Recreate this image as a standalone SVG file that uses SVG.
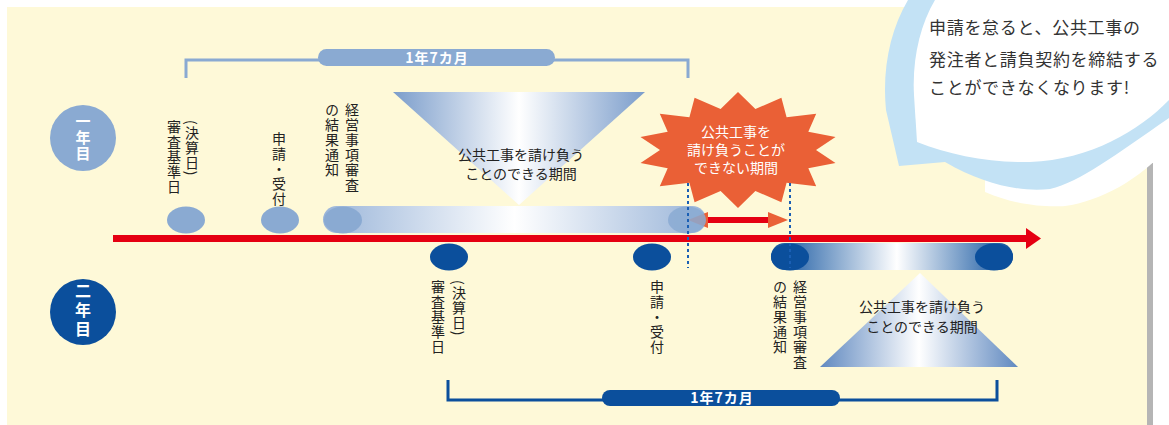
<svg xmlns="http://www.w3.org/2000/svg" width="1169" height="425" viewBox="0 0 1169 425">
<defs>
<style>
.lbl{font-family:"Noto Sans CJK JP",sans-serif;font-size:14px;fill:#222;writing-mode:vertical-rl;letter-spacing:1px}
.yr{font-family:"Noto Sans CJK JP",sans-serif;fill:#fff;writing-mode:vertical-rl;font-weight:bold}
.ctr{font-family:"Noto Sans CJK JP",sans-serif;font-size:14px;fill:#222;text-anchor:middle}
.star{font-family:"Noto Sans CJK JP",sans-serif;font-size:14px;fill:#fff;text-anchor:middle}
.pill{font-family:"Noto Sans CJK JP",sans-serif;font-size:14px;fill:#fff;text-anchor:middle;font-weight:bold;letter-spacing:1px}
.bub{font-family:"Noto Sans CJK JP",sans-serif;font-size:17px;fill:#333;letter-spacing:0.7px}
.o1{fill:#8aaad2}
.o2{fill:#0b4f9c}
.dot{stroke:#1a5fb4;stroke-width:2;stroke-dasharray:3 3;fill:none}
</style>
<linearGradient id="g1bar" x1="323" y1="0" x2="706" y2="0" gradientUnits="userSpaceOnUse">
<stop offset="0" stop-color="#9ab5d9"/><stop offset="0.5" stop-color="#ffffff"/><stop offset="1" stop-color="#9ab5d9"/>
</linearGradient>
<linearGradient id="g1fun" x1="393" y1="0" x2="645" y2="0" gradientUnits="userSpaceOnUse">
<stop offset="0" stop-color="#7b9dcb"/><stop offset="0.5" stop-color="#ffffff"/><stop offset="1" stop-color="#7b9dcb"/>
</linearGradient>
<linearGradient id="g2bar" x1="771" y1="0" x2="1013" y2="0" gradientUnits="userSpaceOnUse">
<stop offset="0" stop-color="#0b4f9c"/><stop offset="0.52" stop-color="#ffffff"/><stop offset="1" stop-color="#0b4f9c"/>
</linearGradient>
<linearGradient id="g2pyr" x1="820" y1="0" x2="1018" y2="0" gradientUnits="userSpaceOnUse">
<stop offset="0" stop-color="#6089c0"/><stop offset="0.5" stop-color="#ffffff"/><stop offset="1" stop-color="#6089c0"/>
</linearGradient>
</defs>

<rect x="0" y="0" width="1169" height="425" fill="#ffffff"/>
<rect x="7" y="7" width="1140" height="418" fill="#fef9d8"/>
<rect x="1147" y="163" width="6" height="262" fill="#b5b5b5"/>

<g id="speech-bubble">
<path d="M985,192 C1020,207 1050,207 1065,206 C1100,201 1140,180 1169,146 L1169,60 L985,60 Z" fill="#ffffff"/>
<path d="M908,0 C890,30 882,70 886,110 L899,166 L945,162 C985,185 1020,192 1050,189 C1080,182 1115,155 1169,118 L1169,0 Z" fill="#c3e2f5"/>
<path d="M935,0 C920,25 912,60 914,95 L917,142 C950,155 990,163 1030,162 C1090,160 1140,130 1169,100 L1169,0 Z" fill="#ffffff"/>
<text class="bub" x="929" y="34">申請を怠ると、公共工事の</text>
<text class="bub" x="929" y="66">発注者と請負契約を締結する</text>
<text class="bub" x="929" y="94">ことができなくなります!</text>
</g>

<g id="year1-badge">
<circle cx="83" cy="138" r="33" fill="#8aaad2"/>
<text class="yr" x="83" y="114" style="font-size:15px;letter-spacing:1px">一年目</text>
</g>
<g id="year2-badge">
<circle cx="83" cy="312" r="33" fill="#0b4f9c"/>
<text class="yr" x="83" y="283" style="font-size:16px;letter-spacing:3px">二年目</text>
</g>

<g id="year1-period">
<polygon points="393,92 645,92 519,205" fill="url(#g1fun)"/>
<rect x="323" y="206" width="383" height="27" rx="13.5" fill="url(#g1bar)"/>
<text class="ctr" x="521" y="160">公共工事を請け負う</text>
<text class="ctr" x="521" y="179">ことのできる期間</text>
</g>

<g id="year2-period">
<polygon points="920,273 820,367 1018,367" fill="url(#g2pyr)"/>
<rect x="771" y="243" width="242" height="27" rx="13.5" fill="url(#g2bar)"/>
<text class="ctr" x="922" y="312">公共工事を請け負う</text>
<text class="ctr" x="922" y="332">ことのできる期間</text>
</g>

<g id="starburst">
<polygon fill="#ea6036" points="738,92 755.4,109.1 781.4,97.7 786.6,117.2 816.2,113.8 808.3,131.8 835.5,137.1 816,150 835.5,162.9 808.3,168.2 816.2,186.2 786.6,182.8 781.4,202.3 755.4,190.9 738,208 720.6,190.9 694.6,202.3 689.4,182.8 659.8,186.2 667.7,168.2 640.5,162.9 660,150 640.5,137.1 667.7,131.8 659.8,113.8 689.4,117.2 694.6,97.7 720.6,109.1"/>
<text class="star" x="736" y="137">公共工事を</text>
<text class="star" x="736" y="155">請け負うことが</text>
<text class="star" x="736" y="173">できない期間</text>
</g>

<g id="connectors">
<path d="M186,78 V60 H688 V78" stroke="#8aaad2" stroke-width="3" fill="none"/>
<path d="M448,380 V400 H997 V380" stroke="#0b4f9c" stroke-width="3" fill="none"/>
<rect x="113" y="235" width="915" height="7" fill="#e50012"/>
<polygon points="1026,228 1041,238.5 1026,249" fill="#e50012"/>
<rect x="706" y="217" width="64" height="6" fill="#e50012"/>
<polygon points="688,220 708,212 708,228" fill="#ea6036"/>
<polygon points="768,212 788,220 768,228" fill="#ea6036"/>
</g>

<g id="year1-events">
<ellipse class="o1" cx="186" cy="220" rx="19" ry="13.5"/>
<ellipse class="o1" cx="280" cy="220" rx="19" ry="13.5"/>
<ellipse class="o1" cx="343" cy="220" rx="19" ry="13.5"/>
<ellipse class="o1" cx="687" cy="220" rx="19" ry="13.5" opacity="0.85"/>
</g>
<g id="year2-events">
<ellipse class="o2" cx="449" cy="257" rx="19" ry="13.5"/>
<ellipse class="o2" cx="652" cy="257" rx="19" ry="13.5"/>
<ellipse class="o2" cx="790" cy="257" rx="19" ry="13.5"/>
<ellipse class="o2" cx="994" cy="257" rx="19" ry="13.5"/>
</g>

<g id="dotted-markers">
<line class="dot" x1="688" y1="183" x2="688" y2="268"/>
<line class="dot" x1="790" y1="183" x2="790" y2="268"/>
</g>

<g id="duration-labels">
<rect x="318" y="49" width="237" height="17" rx="8.5" fill="#8aaad2"/>
<text class="pill" x="437" y="62.5">1年7カ月</text>
<rect x="602" y="390" width="238" height="16" rx="8" fill="#0b4f9c"/>
<text class="pill" x="722" y="403">1年7カ月</text>
</g>

<g id="year1-labels">
<text class="lbl" x="192" y="120">(決算日)</text>
<text class="lbl" x="174" y="120">審査基準日</text>
<text class="lbl" x="279" y="132">申請・受付</text>
<text class="lbl" x="352" y="103">経営事項審査</text>
<text class="lbl" x="332" y="103">の結果通知</text>
</g>
<g id="year2-labels">
<text class="lbl" x="459" y="280">(決算日)</text>
<text class="lbl" x="438" y="280">審査基準日</text>
<text class="lbl" x="657" y="280">申請・受付</text>
<text class="lbl" x="800" y="280">経営事項審査</text>
<text class="lbl" x="780" y="280">の結果通知</text>
</g>
</svg>
